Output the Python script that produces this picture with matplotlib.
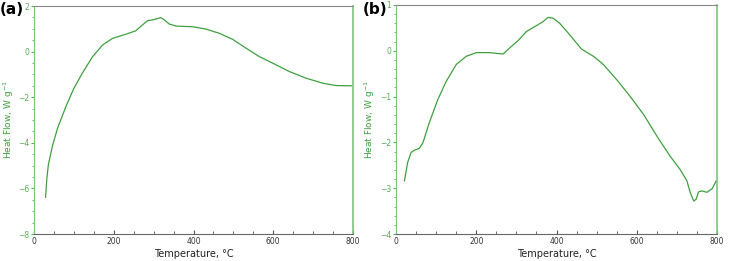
import matplotlib.pyplot as plt
from matplotlib.ticker import MultipleLocator

# panel (a) trace
temp_a = [29, 32, 36, 46, 59, 80, 100, 121, 147, 172, 197, 230, 255, 272, 285, 297,
          318, 327, 339, 356, 398, 431, 465, 498, 532, 565, 599, 641, 683, 725, 758, 796]
heat_a = [-6.39, -5.62, -4.96, -4.16, -3.36, -2.41, -1.61, -0.95, -0.22, 0.29, 0.58,
          0.76, 0.91, 1.17, 1.36, 1.39, 1.49, 1.39, 1.21, 1.12, 1.09, 0.99, 0.80, 0.54,
          0.15, -0.22, -0.51, -0.88, -1.17, -1.39, -1.49, -1.50]

# panel (b) trace
temp_b = [21, 29, 37.5, 46, 58, 67, 83, 104, 125, 150, 175, 200, 233, 267, 283, 304,
          325, 350, 367, 379, 392, 408, 433, 462, 492, 517, 550, 583, 617, 650, 683,
          708, 725, 733, 742, 748, 754, 763, 775, 788, 798]
heat_b = [-2.84, -2.44, -2.22, -2.17, -2.13, -2.01, -1.57, -1.07, -0.67, -0.30, -0.12,
          -0.04, -0.04, -0.07, 0.06, 0.22, 0.42, 0.55, 0.64, 0.73, 0.71, 0.60, 0.35,
          0.04, -0.12, -0.30, -0.63, -0.99, -1.39, -1.86, -2.30, -2.59, -2.84, -3.09,
          -3.28, -3.24, -3.08, -3.06, -3.09, -3.01, -2.84]

LINE = "#3f9f3f"
TICK_GREEN = "#55b055"
SPINE_GREEN = "#7cc47c"


def style_axes(ax, ylim, ymajor, yminor, label_x):
    ax.set_xlim(0, 800)
    ax.set_ylim(*ylim)
    ax.xaxis.set_major_locator(MultipleLocator(200))
    ax.xaxis.set_minor_locator(MultipleLocator(50))
    ax.yaxis.set_major_locator(MultipleLocator(ymajor))
    ax.yaxis.set_minor_locator(MultipleLocator(yminor))
    ax.tick_params(axis="x", which="both", direction="in", colors="#555555",
                   labelsize=5.5, labelcolor="#333333", pad=2)
    ax.tick_params(axis="x", which="major", length=3)
    ax.tick_params(axis="x", which="minor", length=2)
    ax.tick_params(axis="y", which="both", direction="out", colors=TICK_GREEN,
                   labelsize=5.5, labelcolor=TICK_GREEN, pad=1)
    ax.tick_params(axis="y", which="major", length=2.5)
    ax.tick_params(axis="y", which="minor", length=1.5)
    ax.spines["left"].set_color(SPINE_GREEN)
    ax.spines["right"].set_color(SPINE_GREEN)
    ax.spines["right"].set_linewidth(1.2)
    ax.spines["top"].set_color("#888888")
    ax.spines["bottom"].set_color("#666666")
    ax.set_xlabel("Temperature, °C", fontsize=7, color="#222222", labelpad=2)
    ax.set_ylabel("Heat Flow, W g$^{-1}$", fontsize=6.5, color=LINE)
    ax.yaxis.set_label_coords(label_x, 0.5)


fig = plt.figure(figsize=(7.29, 2.61), dpi=100)
ax_a = fig.add_axes([34 / 729, 27 / 261, 319 / 729, 228 / 261])
ax_b = fig.add_axes([396 / 729, 27 / 261, 321 / 729, 229 / 261])

ax_a.plot(temp_a, heat_a, color=LINE, lw=0.9)
style_axes(ax_a, (-8, 2), 2, 0.5, -0.055)

ax_b.plot(temp_b, heat_b, color=LINE, lw=0.9)
style_axes(ax_b, (-4, 1), 1, 0.2, -0.058)

fig.text(0 / 729, 1 - 9 / 261, "(a)", fontsize=11, fontweight="bold", va="center", ha="left")
fig.text(363 / 729, 1 - 9 / 261, "(b)", fontsize=11, fontweight="bold", va="center", ha="left")

fig.savefig("out.png", dpi=100)
